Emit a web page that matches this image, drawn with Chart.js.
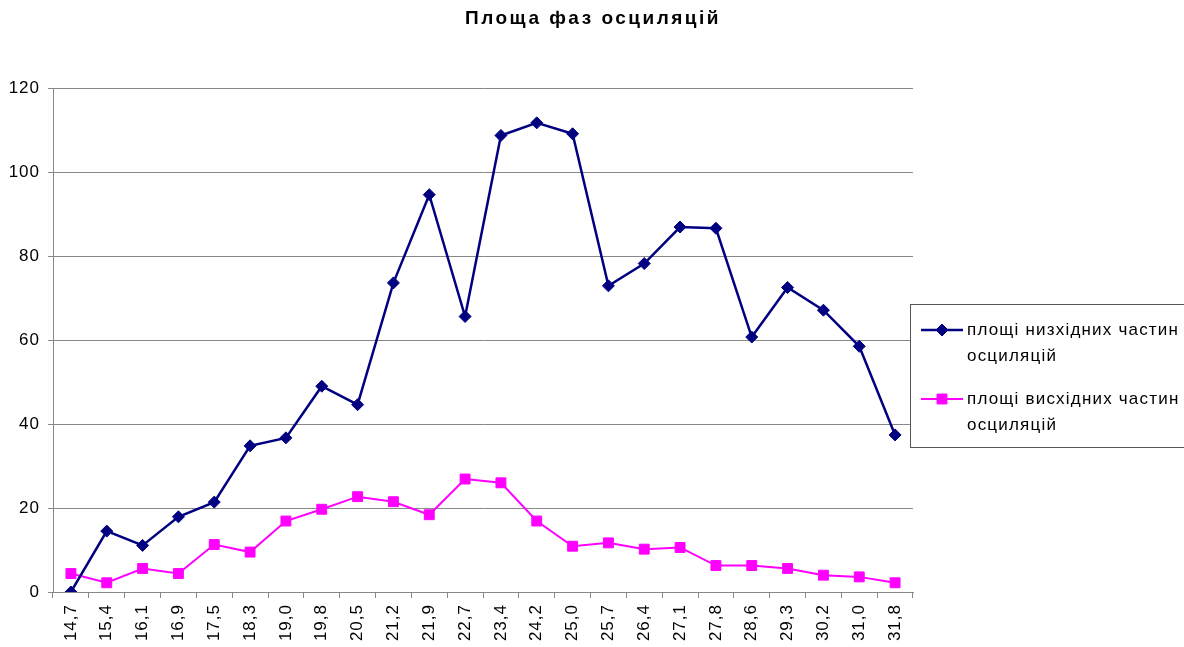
<!DOCTYPE html>
<html>
<head>
<meta charset="utf-8">
<script src="https://cdn.jsdelivr.net/npm/chart.js@4/dist/chart.umd.min.js"></script>
<style>
  html, body { margin: 0; padding: 0; background: #fff; }
  #wrap { width: 1184px; height: 647px; }
</style>
</head>
<body>
<div id="wrap"><canvas id="canvas" width="1184" height="647"></canvas></div>
<script>
const labels = ["14,7", "15,4", "16,1", "16,9", "17,5", "18,3", "19,0", "19,8", "20,5", "21,2", "21,9", "22,7",
  "23,4", "24,2", "25,0", "25,7", "26,4", "27,1", "27,8", "28,6", "29,3", "30,2", "31,0", "31,8"];

const down_areas = [0, 14.5, 11.1, 17.9, 21.4, 34.8, 36.7, 49.0, 44.6, 73.6, 94.6, 65.6,
  108.7, 111.7, 109.1, 72.9, 78.2, 86.9, 86.6, 60.7, 72.5, 67.1, 58.5, 37.4];

const up_areas = [4.4, 2.2, 5.6, 4.4, 11.3, 9.5, 16.9, 19.7, 22.7, 21.5, 18.4, 26.9,
  26.0, 16.9, 10.9, 11.7, 10.2, 10.6, 6.3, 6.3, 5.6, 4.0, 3.6, 2.2];

const chart_title = "Площа фаз осциляцій";

const legend_lines = [
  ["площі низхідних частин", "осциляцій"],
  ["площі висхідних частин", "осциляцій"],
];

const font_family = "Arial, 'Liberation Sans', sans-serif";

// the source picture has slightly spaced-out letters everywhere
const spacing = {
  id: "spacing",
  beforeDraw(chart) { chart.ctx.letterSpacing = "1px"; },
  afterDraw(chart) { chart.ctx.letterSpacing = "0px"; },
};

// title centred on the whole canvas, not on the padded area
const page_title = {
  id: "page_title",
  afterDraw(chart) {
    const ctx = chart.ctx;
    ctx.save();
    ctx.letterSpacing = "2.5px";
    ctx.fillStyle = "#000";
    ctx.font = "bold 19px " + font_family;
    ctx.textAlign = "center";
    ctx.textBaseline = "middle";
    ctx.fillText(chart_title, 593, 19);
    ctx.restore();
  }
};

// legend drawn by hand: two-line labels in a box on the right
const box_legend = {
  id: "box_legend",
  afterDraw(chart) {
    const ctx = chart.ctx;
    const left = 910, top = 304, bottom = 447;
    ctx.save();
    ctx.fillStyle = "#fff";
    ctx.fillRect(left, top, 1184 - left + 5, bottom - top);
    ctx.strokeStyle = "#555";
    ctx.lineWidth = 1;
    ctx.strokeRect(left + 0.5, top + 0.5, 1184 - left + 5, bottom - top);

    const rows = [330, 399];
    chart.data.datasets.forEach((ds, i) => {
      const y = rows[i];
      ctx.strokeStyle = ds.borderColor;
      ctx.lineWidth = ds.borderWidth;
      ctx.beginPath();
      ctx.moveTo(921, y);
      ctx.lineTo(963, y);
      ctx.stroke();
      ctx.fillStyle = ds.backgroundColor;
      ctx.lineWidth = 1;
      Chart.helpers.drawPoint(ctx, {
        pointStyle: ds.pointStyle,
        radius: ds.pointRadius,
        borderWidth: 1,
      }, 942, y);
      ctx.fillStyle = "#000";
      ctx.letterSpacing = "1.2px";
      ctx.font = "17px " + font_family;
      ctx.textBaseline = "middle";
      legend_lines[i].forEach((line, j) => {
        ctx.fillText(line, 967, y + j * 26);
      });
    });
    ctx.restore();
  }
};

const setup = () => {
  const canvas = document.getElementById("canvas").getContext("2d");
  new Chart(canvas, {
    type: "line",
    data: {
      labels: labels,
      datasets: [
        {
          label: legend_lines[0].join(" "),
          data: down_areas,
          borderColor: "#000080",
          backgroundColor: "#000080",
          borderWidth: 2.5,
          pointStyle: "rectRot",
          pointRadius: 6,
          pointBorderWidth: 1,
          lineTension: 0,
        },
        {
          label: legend_lines[1].join(" "),
          data: up_areas,
          borderColor: "#ff00ff",
          backgroundColor: "#ff00ff",
          borderWidth: 2,
          pointStyle: "rect",
          pointRadius: 7,
          pointBorderWidth: 1,
          lineTension: 0,
        },
      ]
    },
    options: {
      responsive: false,
      animation: false,
      events: [],
      layout: {
        padding: { left: 0, right: 271, top: 88, bottom: 0 },
      },
      plugins: {
        legend: { display: false },
        tooltip: { enabled: false },
        title: { display: false },
      },
      scales: {
        x: {
          offset: true,
          grid: {
            offset: true,
            drawOnChartArea: false,
            color: "#888",
            tickLength: 6,
          },
          border: { color: "#888" },
          ticks: {
            color: "#000",
            font: { family: font_family, size: 17 },
            minRotation: 90,
            maxRotation: 90,
            autoSkip: false,
            padding: 6,
          },
          afterFit: (scale) => { scale.height = 55; },
        },
        y: {
          min: 0,
          max: 120,
          grid: {
            color: "#888",
            tickLength: 5,
          },
          border: { color: "#888" },
          ticks: {
            stepSize: 20,
            color: "#000",
            font: { family: font_family, size: 17 },
            padding: 8,
          },
          afterFit: (scale) => { scale.width = 53; },
        },
      },
    },
    plugins: [spacing, page_title, box_legend],
  });
}

setup();
</script>
</body>
</html>
